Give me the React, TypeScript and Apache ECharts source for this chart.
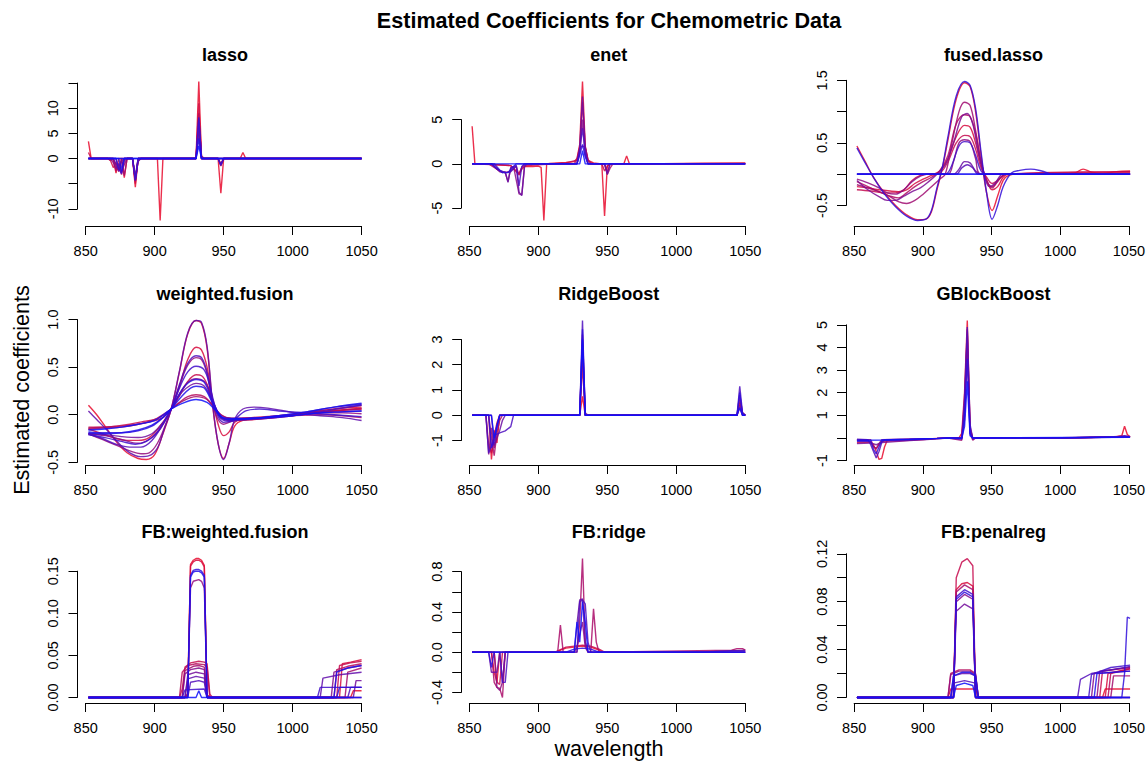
import React, { useEffect, useRef } from "react";
import * as echarts from "echarts";

type Pt = [number, number];
type Line = Pt[];

const FONT = "'Liberation Sans', Arial, Helvetica, sans-serif";

const MAIN_TITLE = "Estimated Coefficients for Chemometric Data";
const X_LABEL = "wavelength";
const Y_LABEL = "Estimated coefficients";
const PANEL_TITLES = [
  "lasso", "enet", "fused.lasso",
  "weighted.fusion", "RidgeBoost", "GBlockBoost",
  "FB:weighted.fusion", "FB:ridge", "FB:penalreg",
];

const X_TICK_MIN = 850;
const X_TICK_MAX = 1050;
const X_TICK_STEP = 50;

// ---- y ticks per panel: [min, max, step] and labels shown ----
const Y_TICK_SPECS: [number, number, number][] = [
  [-10, 15, 5], [-5, 5, 5], [-0.5, 1.5, 0.5],
  [-0.5, 1.0, 0.5], [-1, 3, 1], [-1, 5, 1],
  [0, 0.15, 0.05], [-0.4, 0.8, 0.2], [0, 0.12, 0.02],
];
const lassoTickLabels = ["-10", "", "0", "5", "10", ""];
const enetTickLabels = ["-5", "0", "5"];
const fusedTickLabels = ["-0.5", "", "0.5", "", "1.5"];
const wfTickLabels = ["-0.5", "0.0", "0.5", "1.0"];
const ridgeBoostTickLabels = ["-1", "0", "1", "2", "3"];
const gblockTickLabels = ["-1", "", "1", "2", "3", "4", "5"];
const fbwfTickLabels = ["0.00", "0.05", "0.10", "0.15"];
const fbRidgeTickLabels = ["-0.4", "", "0.0", "", "0.4", "", "0.8"];
const fbPenTickLabels = ["0.00", "", "0.04", "", "0.08", "", "0.12"];

// ---- series (wavelength, coefficient) ----
const lassoLines: Line[] = [
  [[852,3.4],[854,0],[870,0],[872,-2.9],[874,0],[876,0],[878,-3.8],[880,0],[884,0],[886,-5.7],[888,0],[902,0],[904,-12.3],[906,0],[930,0],[932,15.3],[934,0],[946,0],[948,-6.9],[950,0],[962,0],[964,1.2],[966,0],[1050,0]],
  [[852,1.2],[854,0],[866,0],[868,-0.4],[870,-1.8],[872,-0.8],[874,-2.2],[876,0],[884,0],[886,-5.0],[888,0],[930,0],[932,11],[934,0],[946,0],[948,-1.0],[950,0],[1050,0]],
  [[852,0],[866,0],[868,-0.3],[870,-0.2],[872,-2.5],[874,-1.0],[876,-3.2],[878,-0.5],[880,0],[884,0],[886,-4.5],[888,-0.5],[890,0],[930,0],[932,9],[934,0],[946,0],[948,-1.5],[950,0],[1050,0]],
  [[852,0],[870,0],[872,-1.5],[874,-2.6],[876,0],[878,-3.4],[880,0],[884,0],[886,-4.2],[888,0],[930,0],[932,7],[934,0.5],[936,0],[1050,0]],
  [[852,0],[868,0],[870,-0.8],[872,-2.0],[874,-1.0],[876,-2.8],[878,-1.2],[880,0],[884,0],[886,-4.0],[888,-0.6],[890,0],[930,0],[932,5],[934,0],[946,0],[948,-1.3],[950,0],[1050,0]],
  [[852,0],[870,0],[872,-1.0],[874,-2.4],[876,-0.5],[878,0],[884,0],[886,-3.5],[888,0],[930,0],[932,6],[934,0],[1050,0]],
  [[852,0],[872,0],[874,-2.3],[876,-1.6],[878,0],[884,0],[886,-4.4],[888,0],[930,0],[932,8],[934,0],[946,0],[948,-1.4],[950,0],[1050,0]],
  [[852,0],[872,0],[874,-2.0],[876,-3.0],[878,0],[884,0],[886,-4.3],[888,-0.3],[890,0],[930,0],[932,8.2],[934,0],[946,0],[948,-1.2],[950,0],[1050,0]],
  [[852,0],[874,0],[876,-2.5],[878,0],[930,0],[932,4],[934,0],[1050,0]],
  [[852,0],[930,0],[932,2.5],[934,0],[1050,0]],
];

const enetLines: Line[] = [
  [[852,4.25],[854,0.05],[870,-0.1],[880,-0.2],[884,-0.8],[886,-1.2],[888,-0.6],[890,-0.3],[896,-0.3],[900,-0.25],[902,-0.4],[904,-6.4],[906,-0.1],[908,0.05],[920,0.15],[926,0.25],[928,0.6],[930,2.2],[932,9.3],[934,2.0],[936,0.4],[940,0.1],[946,0],[948,-5.9],[950,-0.2],[952,0],[962,0],[964,0.9],[966,0],[990,0.02],[1020,0.08],[1050,0.1]],
  [[852,0],[870,-0.1],[880,-0.2],[884,-0.9],[886,-1.1],[888,-0.4],[892,-0.2],[900,-0.1],[920,0.1],[928,0.4],[930,1.5],[932,7],[934,1.8],[936,0.3],[940,0],[946,0],[948,-0.8],[950,-0.3],[952,0],[1050,0.05]],
  [[852,0],[864,0],[866,-0.2],[868,-0.4],[872,-0.8],[876,-1.0],[880,-0.8],[884,-0.3],[886,-1.3],[888,-0.4],[890,0],[926,0],[928,0.5],[930,1.9],[932,2.0],[934,1.9],[936,0.5],[938,0],[948,0],[950,-1.2],[952,-0.5],[954,0],[1050,0]],
  [[852,0],[866,0],[868,-0.3],[872,-0.9],[876,-1.0],[878,-2.0],[880,-0.5],[882,-0.3],[886,-3.4],[888,-3.5],[890,-0.3],[892,0],[928,0],[930,1.2],[932,5],[934,1.0],[936,0],[948,0],[950,-1.0],[952,0],[1050,0]],
  [[852,0],[866,0],[870,-0.6],[874,-1.0],[876,-0.9],[878,-2.1],[880,-0.4],[884,-0.2],[886,-3.2],[888,-3.6],[890,-0.2],[892,0],[928,0],[930,1.8],[932,7.6],[934,1.8],[936,0],[948,0],[950,-1.2],[952,0],[1050,0]],
  [[852,0],[868,0],[872,-0.7],[876,-1.0],[880,-0.9],[884,-0.2],[886,-2.5],[888,-0.3],[890,0],[928,0],[930,1.5],[932,4],[934,1.2],[936,0],[1050,0]],
  [[852,0],[866,0],[870,-0.5],[874,-1.0],[878,-1.0],[882,-0.3],[884,0],[928,0],[930,1.0],[932,2.2],[934,0.8],[936,0],[1050,0]],
  [[852,0],[930,0],[932,1.5],[934,0],[1050,0]],
];

const fusedLassoLines: Line[] = [
  [[852,0.45],[858,0.2],[864,-0.05],[872,-0.3],[880,-0.5],[888,-0.65],[896,-0.73],[902,-0.72],[906,-0.6],[910,-0.25],[914,0.1],[918,0.55],[924,1.2],[930,1.46],[934,1.4],[938,1.0],[942,0.3],[946,-0.3],[950,-0.58],[954,-0.35],[958,-0.1],[962,-0.02],[970,0],[1000,0],[1010,0.02],[1016,0.08],[1022,0.03],[1030,0.01],[1040,0.04],[1050,0.05]],
  [[852,-0.2],[860,-0.22],[868,-0.25],[876,-0.27],[882,-0.28],[888,-0.25],[894,-0.15],[900,-0.08],[906,-0.02],[912,0.05],[918,0.25],[924,0.6],[930,0.78],[934,0.75],[938,0.5],[942,0.15],[946,-0.1],[950,-0.25],[954,-0.2],[958,-0.05],[962,0],[1050,0.03]],
  [[852,-0.25],[862,-0.27],[872,-0.3],[880,-0.3],[886,-0.25],[892,-0.1],[898,-0.02],[904,0],[912,0.02],[918,0.2],[924,0.5],[930,0.62],[934,0.6],[938,0.4],[942,0.1],[946,-0.05],[950,-0.15],[954,-0.1],[960,0],[1050,0.04]],
  [[852,-0.12],[860,-0.2],[868,-0.28],[876,-0.35],[882,-0.38],[888,-0.3],[894,-0.2],[900,-0.12],[906,-0.05],[912,0.05],[918,0.3],[924,0.8],[930,0.95],[934,0.92],[938,0.65],[942,0.2],[946,-0.1],[950,-0.22],[954,-0.12],[960,0],[1050,0]],
  [[852,-0.17],[860,-0.22],[868,-0.28],[876,-0.36],[882,-0.44],[888,-0.47],[894,-0.42],[900,-0.32],[906,-0.2],[912,-0.08],[916,0],[920,0.4],[926,1.0],[930,1.15],[934,1.1],[938,0.7],[942,0.2],[946,-0.1],[950,-0.2],[956,-0.05],[962,0],[1050,0]],
  [[852,-0.08],[860,-0.14],[868,-0.22],[874,-0.3],[880,-0.32],[886,-0.25],[892,-0.12],[898,-0.03],[904,0],[918,0],[922,0.2],[926,0.5],[930,0.55],[934,0.52],[938,0.25],[942,0],[1050,0]],
  [[852,-0.1],[860,-0.25],[868,-0.36],[874,-0.42],[880,-0.42],[886,-0.35],[892,-0.28],[898,-0.22],[904,-0.12],[910,0],[916,0.15],[922,0.5],[928,0.92],[932,0.97],[936,0.8],[940,0.35],[944,0],[948,-0.2],[952,-0.15],[958,0],[1050,0]],
  [[852,0],[922,0],[926,0.08],[930,0.2],[934,0.18],[938,0.05],[942,0],[1050,0]],
  [[852,0],[924,0],[928,0.1],[932,0.15],[936,0.1],[940,0],[1050,0]],
  [[852,0],[916,0],[920,0.1],[926,0.45],[930,0.52],[934,0.5],[938,0.3],[942,0.05],[946,0],[1050,0]],
  [[852,0.42],[858,0.18],[864,-0.05],[872,-0.32],[880,-0.52],[888,-0.67],[896,-0.74],[902,-0.72],[906,-0.58],[910,-0.22],[914,0.12],[918,0.6],[924,1.25],[930,1.48],[934,1.42],[938,1.05],[942,0.35],[946,-0.3],[950,-0.72],[954,-0.5],[958,-0.2],[964,0.02],[970,0.06],[978,0.08],[986,0.05],[994,0],[1050,0]],
  [[852,0],[1050,0]],
  [[852,0],[1050,0]],
];

const weightedFusionLines: Line[] = [
  [[852,0.1],[858,0.0],[864,-0.12],[872,-0.28],[880,-0.4],[888,-0.46],[894,-0.47],[900,-0.42],[906,-0.2],[912,0.06],[918,0.45],[924,0.85],[930,0.99],[934,0.96],[938,0.7],[942,0.1],[946,-0.3],[950,-0.46],[954,-0.3],[958,-0.12],[964,-0.06],[972,-0.05],[984,-0.03],[996,-0.01],[1010,0.02],[1024,0.05],[1036,0.07],[1050,0.08]],
  [[852,-0.15],[862,-0.2],[872,-0.25],[880,-0.27],[888,-0.27],[896,-0.24],[904,-0.12],[912,0.06],[918,0.3],[924,0.58],[930,0.71],[934,0.68],[938,0.5],[942,0.15],[946,-0.1],[950,-0.22],[954,-0.18],[958,-0.08],[964,-0.04],[980,-0.03],[1000,0],[1020,0.03],[1036,0.05],[1050,0.06]],
  [[852,-0.13],[862,-0.13],[872,-0.12],[882,-0.1],[892,-0.07],[902,-0.04],[912,0.06],[918,0.2],[924,0.35],[930,0.42],[934,0.41],[938,0.32],[942,0.12],[946,0.0],[950,-0.04],[956,-0.04],[970,-0.03],[990,-0.01],[1010,0.01],[1030,0.04],[1050,0.07]],
  [[852,-0.14],[864,-0.13],[876,-0.12],[888,-0.1],[898,-0.07],[906,-0.03],[912,0.06],[918,0.13],[924,0.19],[930,0.21],[936,0.19],[942,0.1],[948,0.0],[956,-0.04],[970,-0.04],[990,-0.02],[1010,0.01],[1030,0.04],[1050,0.06]],
  [[852,-0.15],[864,-0.14],[876,-0.13],[888,-0.1],[900,-0.05],[912,0.06],[920,0.14],[930,0.19],[938,0.16],[944,0.06],[950,-0.02],[958,-0.04],[980,-0.03],[1000,-0.01],[1020,0],[1036,-0.01],[1050,-0.03]],
  [[852,-0.2],[862,-0.26],[872,-0.32],[882,-0.38],[890,-0.41],[896,-0.4],[902,-0.3],[908,-0.1],[912,0.06],[918,0.3],[924,0.52],[930,0.6],[934,0.58],[938,0.43],[942,0.12],[946,-0.05],[950,-0.1],[954,-0.08],[960,-0.05],[980,-0.04],[1000,-0.01],[1020,0.02],[1036,0.02],[1050,0.01]],
  [[852,-0.2],[864,-0.22],[876,-0.26],[888,-0.3],[896,-0.26],[904,-0.15],[912,0.06],[918,0.22],[924,0.34],[930,0.38],[936,0.35],[940,0.25],[944,0.08],[948,-0.03],[954,-0.06],[966,-0.05],[990,-0.02],[1010,0.02],[1030,0.06],[1050,0.1]],
  [[852,-0.2],[864,-0.21],[876,-0.23],[888,-0.24],[898,-0.2],[906,-0.08],[912,0.06],[920,0.24],[926,0.31],[930,0.33],[936,0.3],[942,0.14],[948,-0.02],[954,-0.06],[970,-0.05],[990,-0.02],[1010,0.01],[1030,0.03],[1050,0.04]],
  [[852,0.04],[858,-0.05],[866,-0.17],[874,-0.3],[882,-0.4],[890,-0.44],[896,-0.43],[902,-0.35],[907,-0.15],[912,0.06],[918,0.46],[924,0.86],[930,0.99],[934,0.97],[938,0.72],[942,0.12],[946,-0.3],[950,-0.47],[954,-0.3],[958,-0.05],[964,0.06],[972,0.08],[982,0.07],[994,0.04],[1006,0.01],[1020,-0.01],[1036,-0.03],[1050,-0.06]],
  [[852,-0.2],[862,-0.25],[872,-0.31],[882,-0.34],[890,-0.34],[898,-0.27],[906,-0.1],[912,0.06],[918,0.32],[924,0.54],[930,0.62],[934,0.6],[938,0.45],[942,0.15],[946,-0.02],[950,-0.08],[956,-0.07],[964,-0.05],[980,-0.04],[1000,-0.01],[1020,0.03],[1036,0.07],[1050,0.1]],
  [[852,-0.21],[864,-0.24],[876,-0.28],[886,-0.31],[894,-0.28],[902,-0.18],[912,0.06],[918,0.28],[924,0.45],[930,0.51],[936,0.47],[940,0.3],[944,0.08],[948,-0.04],[954,-0.07],[966,0.04],[976,0.06],[990,0.04],[1010,0.02],[1030,0.0],[1050,-0.02]],
  [[852,-0.18],[864,-0.19],[876,-0.19],[888,-0.17],[898,-0.12],[906,-0.03],[912,0.06],[918,0.22],[924,0.33],[930,0.37],[936,0.34],[942,0.14],[948,-0.02],[954,-0.05],[970,-0.04],[990,-0.01],[1010,0.03],[1030,0.08],[1050,0.11]],
  [[852,-0.19],[864,-0.2],[876,-0.19],[888,-0.16],[898,-0.11],[906,-0.03],[912,0.06],[920,0.2],[926,0.28],[930,0.3],[936,0.28],[942,0.12],[948,-0.02],[954,-0.05],[970,-0.04],[990,-0.01],[1010,0.03],[1030,0.08],[1050,0.12]],
  [[852,-0.16],[864,-0.15],[876,-0.13],[888,-0.1],[900,-0.06],[912,0.06],[920,0.12],[930,0.16],[938,0.13],[944,0.05],[950,-0.03],[960,-0.04],[980,-0.03],[1000,-0.01],[1020,0.02],[1036,0.03],[1050,0.04]],
];

const ridgeBoostLines: Line[] = [
  [[852,0],[864,0],[866,-1.75],[868,-0.6],[870,-1.1],[872,0],[930,0],[932,0.75],[934,0],[1044,0],[1046,0.5],[1048,0.1],[1050,0]],
  [[852,0],[862,0],[864,-1.2],[866,-1.5],[868,-0.8],[870,-0.3],[872,0],[930,0],[932,2.0],[934,0],[1044,0],[1046,0.3],[1048,0],[1050,0]],
  [[852,0],[864,0],[866,-0.9],[868,-1.6],[870,-0.7],[872,-0.2],[874,0],[930,0],[932,2.8],[934,0],[1044,0],[1046,0.6],[1048,0.05],[1050,0]],
  [[852,0],[862,0],[864,-1.55],[866,-0.5],[868,-1.3],[870,-0.4],[872,0],[930,0],[932,3.2],[934,0.1],[936,0],[1044,0],[1046,0.4],[1048,0],[1050,0]],
  [[852,0],[866,0],[868,-1.2],[870,-0.9],[872,-0.6],[874,-0.2],[876,0],[930,0],[932,2.5],[934,0],[1044,0],[1046,0.8],[1048,0.1],[1050,0]],
  [[852,0],[862,0],[864,-1.5],[866,-1.2],[868,-0.8],[872,-0.7],[876,-0.62],[880,-0.45],[882,0],[930,0],[932,3.75],[934,0],[1044,0],[1046,1.15],[1048,0.1],[1050,0]],
  [[852,0],[864,0],[866,-1.3],[868,-1.0],[870,-0.5],[872,0],[930,0],[932,3.4],[934,0],[1044,0],[1046,0.9],[1048,0],[1050,0]],
  [[852,0],[866,0],[868,-0.9],[870,-0.4],[872,0],[930,0],[932,3.0],[934,0],[1044,0],[1046,0.3],[1048,0],[1050,0]],
];

const gBlockBoostLines: Line[] = [
  [[852,-0.12],[860,-0.1],[864,-0.3],[866,-0.6],[868,-0.95],[870,-0.9],[872,-0.4],[874,-0.1],[880,-0.09],[890,-0.07],[900,-0.05],[910,-0.02],[918,0],[926,0],[928,0.2],[930,2.0],[932,5.19],[934,0.5],[936,-0.05],[938,0],[1000,0],[1020,0.02],[1040,0.06],[1044,0.1],[1046,0.52],[1048,0.15],[1050,0.05]],
  [[852,-0.2],[862,-0.18],[864,-0.4],[866,-0.45],[868,-0.3],[870,-0.15],[880,-0.13],[890,-0.1],[900,-0.07],[910,-0.03],[918,0],[928,0],[930,1.5],[932,4.6],[934,0.3],[936,0],[1000,0],[1030,0.03],[1046,0.08],[1050,0.06]],
  [[852,-0.08],[862,-0.08],[864,-0.35],[866,-0.5],[868,-0.25],[870,-0.08],[890,-0.05],[910,-0.02],[918,0],[928,-0.1],[930,0.8],[932,4.0],[934,0.2],[936,-0.1],[938,0],[1000,0.01],[1040,0.05],[1050,0.05]],
  [[852,-0.25],[862,-0.22],[866,-0.3],[870,-0.2],[880,-0.16],[890,-0.12],[900,-0.08],[910,-0.04],[918,0],[928,0],[930,1.2],[932,4.8],[934,0.4],[936,0],[1000,0],[1050,0.04]],
  [[852,-0.05],[860,-0.08],[862,-0.3],[864,-0.6],[866,-0.88],[868,-0.6],[870,-0.2],[872,-0.08],[890,-0.05],[910,-0.02],[918,0],[928,0],[930,1.8],[932,4.9],[934,0.6],[936,-0.05],[938,0],[1000,0],[1040,0.05],[1046,0.1],[1050,0.06]],
  [[852,-0.15],[862,-0.14],[864,-0.5],[866,-0.7],[868,-0.4],[870,-0.12],[890,-0.08],[910,-0.03],[918,0],[928,-0.05],[930,1.0],[932,3.5],[934,0.2],[936,0],[1000,0],[1050,0.05]],
  [[852,-0.1],[870,-0.09],[890,-0.06],[910,-0.02],[918,0],[928,0],[930,0.5],[932,2.5],[934,0.1],[936,0],[1050,0.03]],
];

const fbWeightedFusionLines: Line[] = [
  [[852,0],[922,0],[924,0.004],[926,0.158],[928,0.163],[930,0.165],[932,0.165],[934,0.163],[936,0.157],[938,0.003],[940,0],[1042,0],[1044,0.008],[1050,0.008]],
  [[852,0],[922,0],[924,0.003],[926,0.156],[928,0.161],[930,0.163],[932,0.163],[934,0.161],[936,0.155],[938,0.002],[940,0],[1034,0],[1036,0.04],[1042,0.042],[1050,0.045]],
  [[852,0],[918,0],[920,0.01],[922,0.036],[926,0.041],[932,0.043],[936,0.042],[938,0.04],[940,0.004],[942,0],[1032,0],[1034,0.038],[1042,0.041],[1050,0.043]],
  [[852,0],[918,0],[920,0.03],[924,0.038],[930,0.04],[936,0.039],[938,0.036],[940,0],[1030,0],[1032,0.033],[1040,0.037],[1050,0.04]],
  [[852,0],[920,0],[922,0.032],[928,0.037],[932,0.038],[936,0.036],[938,0.003],[940,0],[1038,0],[1040,0.03],[1050,0.035]],
  [[852,0],[922,0],[924,0.005],[926,0.13],[928,0.138],[932,0.14],[934,0.138],[936,0.13],[938,0],[1050,0]],
  [[852,0],[920,0],[922,0.028],[926,0.033],[932,0.035],[936,0.033],[938,0],[1028,0],[1030,0.03],[1040,0.035],[1050,0.038]],
  [[852,0],[922,0],[924,0.027],[930,0.03],[936,0.028],[938,0],[1044,0],[1046,0.02],[1050,0.02]],
  [[852,0],[922,0],[924,0.022],[930,0.025],[936,0.023],[938,0],[1020,0],[1022,0.023],[1034,0.027],[1050,0.03]],
  [[852,0],[924,0],[926,0.018],[932,0.02],[936,0.018],[938,0],[1040,0],[1042,0.012],[1050,0.012]],
  [[852,0],[920,0],[922,0.009],[936,0.01],[938,0],[1018,0],[1020,0.012],[1050,0.012]],
  [[852,0],[924,0],[926,0.145],[928,0.151],[930,0.152],[932,0.152],[934,0.15],[936,0.145],[938,0],[1032,0],[1034,0.012],[1050,0.012]],
  [[852,0],[924,0],[926,0.143],[928,0.149],[930,0.15],[932,0.15],[934,0.148],[936,0.143],[938,0],[1030,0],[1032,0.03],[1040,0.035],[1050,0.038]],
  [[852,0],[930,0],[932,0.008],[934,0],[1050,0]],
];

const fbRidgeLines: Line[] = [
  [[852,0],[866,0],[868,-0.2],[870,-0.3],[872,0],[914,0],[916,0.02],[920,0.04],[926,0.05],[932,0.06],[938,0.05],[944,0.02],[946,0],[1050,0]],
  [[852,0],[868,0],[870,-0.3],[872,-0.32],[874,0],[912,0],[920,0.05],[926,0.06],[932,0.07],[938,0.06],[944,0.03],[948,0],[1050,0]],
  [[852,0],[866,0],[868,-0.3],[870,-0.35],[872,-0.36],[874,-0.45],[876,0],[914,0],[916,0.27],[918,0],[928,0],[930,0.3],[932,0.93],[934,0.1],[936,0],[938,0],[940,0.43],[942,0.1],[944,0],[1040,0.02],[1044,0.035],[1048,0.035],[1050,0.02]],
  [[852,0],[868,0],[870,-0.35],[872,-0.38],[874,-0.3],[876,0],[926,0],[928,0.05],[932,0.3],[934,0.05],[936,0],[1020,0],[1030,0.01],[1050,0.02]],
  [[852,0],[864,0],[866,-0.2],[868,-0.2],[870,-0.2],[872,0],[874,-0.3],[876,0],[926,0],[928,0.28],[930,0.52],[932,0.53],[934,0.1],[936,0],[1050,0]],
  [[852,0],[872,0],[874,-0.3],[876,-0.3],[878,0],[928,0],[930,0.5],[932,0.52],[934,0.48],[936,0.1],[938,0],[1020,0],[1040,0.015],[1050,0.015]],
  [[852,0],[864,0],[866,-0.15],[868,0],[920,0],[926,0.03],[932,0.04],[938,0.03],[944,0],[1050,0]],
  [[852,0],[926,0],[928,0.3],[930,0.1],[932,0.5],[934,0.3],[936,0],[1050,0]],
];

const fbPenalregLines: Line[] = [
  [[852,0],[918,0],[920,0.007],[938,0.007],[940,0],[1030,0],[1032,0.007],[1050,0.007]],
  [[852,0],[922,0],[924,0.09],[928,0.095],[932,0.096],[936,0.093],[938,0],[1032,0],[1034,0.02],[1050,0.024]],
  [[852,0],[922,0],[924,0.1],[928,0.113],[932,0.116],[936,0.11],[938,0],[1028,0],[1030,0.022],[1050,0.025]],
  [[852,0],[918,0],[920,0.02],[926,0.023],[934,0.023],[938,0.02],[940,0],[1034,0],[1036,0.02],[1050,0.024]],
  [[852,0],[922,0],[924,0.088],[930,0.094],[936,0.09],[938,0],[1036,0],[1038,0.018],[1050,0.018]],
  [[852,0],[918,0],[920,0.019],[926,0.022],[934,0.022],[938,0.019],[940,0],[1026,0],[1028,0.022],[1050,0.025]],
  [[852,0],[922,0],[924,0.08],[930,0.086],[936,0.082],[938,0],[1022,0],[1024,0.02],[1050,0.022]],
  [[852,0],[922,0],[924,0.072],[930,0.078],[936,0.074],[938,0],[1050,0]],
  [[852,0],[920,0],[922,0.018],[928,0.02],[934,0.02],[938,0.018],[940,0],[1050,0]],
  [[852,0],[920,0],[922,0.012],[930,0.014],[938,0.012],[940,0],[1012,0],[1014,0.015],[1022,0.02],[1050,0.026]],
  [[852,0],[922,0],[924,0.084],[930,0.09],[936,0.086],[938,0],[1020,0],[1022,0.019],[1036,0.025],[1050,0.027]],
  [[852,0],[922,0],[924,0.082],[930,0.088],[936,0.084],[938,0],[1044,0],[1046,0.02],[1048,0.067],[1050,0.066]],
  [[852,0],[920,0],[922,0.018],[928,0.021],[934,0.021],[938,0.018],[940,0],[1024,0],[1026,0.02],[1050,0.022]],
  [[852,0],[922,0],[924,0.01],[930,0.012],[936,0.01],[938,0],[1050,0]],
];

const PANEL_LINES: Line[][] = [
  lassoLines, enetLines, fusedLassoLines,
  weightedFusionLines, ridgeBoostLines, gBlockBoostLines,
  fbWeightedFusionLines, fbRidgeLines, fbPenalregLines,
];
const PANEL_TICK_LABELS: string[][] = [
  lassoTickLabels, enetTickLabels, fusedTickLabels,
  wfTickLabels, ridgeBoostTickLabels, gblockTickLabels,
  fbwfTickLabels, fbRidgeTickLabels, fbPenTickLabels,
];
const PANEL_SMOOTH = [false, false, true, true, false, false, false, false, false];

// ---- layout ----
const COL_LEFT = [77.5, 461.2, 846];
const ROW_TOP = [76, 315, 553];
const PLOT_W = 295;
const PLOT_H = 150;

const RED = [232, 10, 45];
const BLUE = [15, 15, 250];
function rampColor(i: number, n: number) {
  const t = n > 1 ? i / (n - 1) : 0;
  const c = RED.map((r, k) => Math.round(r + (BLUE[k] - r) * t));
  return `rgb(${c[0]},${c[1]},${c[2]})`;
}

function extRange(vals: number[]): [number, number] {
  const lo = Math.min(...vals);
  const hi = Math.max(...vals);
  const d = (hi - lo) * 0.04;
  return [lo - d, hi + d];
}

function buildOption() {
  const grid: any[] = [];
  const xAxis: any[] = [];
  const yAxis: any[] = [];
  const series: any[] = [];
  const graphic: any[] = [];

  const axisText = { fontSize: 14.5, color: "#000", fontFamily: FONT };
  const axisLine = { show: true, onZero: false, lineStyle: { color: "#000", width: 1 } };
  const axisTick = { show: true, length: 9, inside: false, lineStyle: { color: "#000", width: 1 } };

  PANEL_LINES.forEach((lines, p) => {
    const L = COL_LEFT[p % 3];
    const T = ROW_TOP[Math.floor(p / 3)];
    const xs: number[] = [];
    const ys: number[] = [];
    lines.forEach((ln) => ln.forEach(([x, y]) => { xs.push(x); ys.push(y); }));
    const [xLo, xHi] = extRange(xs);
    const [yLo, yHi] = extRange(ys);
    const [tMin, tMax, tStep] = Y_TICK_SPECS[p];
    const labels = PANEL_TICK_LABELS[p];
    const g0 = grid.length;

    // data grid
    grid.push({ left: L, top: T, width: PLOT_W, height: PLOT_H });
    xAxis.push({ gridIndex: g0, type: "value", min: xLo, max: xHi, show: false });
    yAxis.push({ gridIndex: g0, type: "value", min: yLo, max: yHi, show: false });

    // x axis grid
    const xl = L + ((X_TICK_MIN - xLo) / (xHi - xLo)) * PLOT_W;
    const xw = ((X_TICK_MAX - X_TICK_MIN) / (xHi - xLo)) * PLOT_W;
    grid.push({ left: xl, top: T, width: xw, height: PLOT_H });
    xAxis.push({
      gridIndex: g0 + 1, type: "value", min: X_TICK_MIN, max: X_TICK_MAX, interval: X_TICK_STEP,
      axisLine, axisTick, splitLine: { show: false },
      axisLabel: { ...axisText, margin: 17, showMinLabel: true, showMaxLabel: true, formatter: (v: number) => String(v) },
    });
    yAxis.push({ gridIndex: g0 + 1, type: "value", min: 0, max: 1, show: false });

    // y axis grid
    const yt = T + ((yHi - tMax) / (yHi - yLo)) * PLOT_H;
    const yh = ((tMax - tMin) / (yHi - yLo)) * PLOT_H;
    grid.push({ left: L, top: yt, width: PLOT_W, height: yh });
    xAxis.push({ gridIndex: g0 + 2, type: "value", min: 0, max: 1, show: false });
    yAxis.push({
      gridIndex: g0 + 2, type: "value", min: tMin, max: tMax, interval: tStep,
      axisLine, axisTick, splitLine: { show: false },
      axisLabel: {
        ...axisText, margin: 17, rotate: 90, showMinLabel: true, showMaxLabel: true,
        formatter: (v: number) => {
          const idx = Math.round((v - tMin) / tStep);
          return labels[idx] ?? "";
        },
      },
    });

    lines.forEach((ln, i) => {
      series.push({
        type: "line", xAxisIndex: g0, yAxisIndex: g0, data: ln,
        showSymbol: false, symbol: "none", silent: true, smooth: PANEL_SMOOTH[p] ? 0.35 : false,
        lineStyle: { width: 1.4, color: rampColor(i, lines.length), opacity: 0.85 },
        z: 2,
      });
    });

    graphic.push({
      type: "text", x: L + PLOT_W / 2, y: T - 21,
      style: { text: PANEL_TITLES[p], fontSize: 18, fontWeight: "bold", fontFamily: FONT, fill: "#000", align: "center", verticalAlign: "middle" },
    });
  });

  graphic.push({
    type: "text", x: 609, y: 20,
    style: { text: MAIN_TITLE, fontSize: 21.6, fontWeight: "bold", fontFamily: FONT, fill: "#000", align: "center", verticalAlign: "middle" },
  });
  graphic.push({
    type: "text", x: 609, y: 748,
    style: { text: X_LABEL, fontSize: 21.6, fontFamily: FONT, fill: "#000", align: "center", verticalAlign: "middle" },
  });
  graphic.push({
    type: "text", x: 21, y: 390, rotation: Math.PI / 2,
    style: { text: Y_LABEL, fontSize: 21.6, fontFamily: FONT, fill: "#000", align: "center", verticalAlign: "middle" },
  });

  return { animation: false, backgroundColor: "#fff", grid, xAxis, yAxis, series, graphic };
}

export default function App() {
  const ref = useRef<HTMLDivElement>(null);
  useEffect(() => {
    document.body.style.margin = "0";
    if (!ref.current) return;
    const chart = echarts.init(ref.current, undefined, { renderer: "svg" });
    chart.setOption(buildOption());
    return () => chart.dispose();
  }, []);
  return <div ref={ref} style={{ width: 1148, height: 762 }} />;
}
